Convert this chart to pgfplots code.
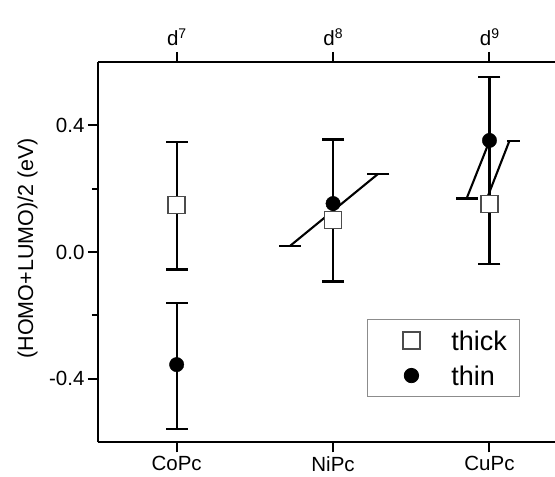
\documentclass[border=0pt]{standalone}
\usepackage{fontspec}
\setmainfont{Liberation Sans}
\usepackage{pgfplots}
\pgfplotsset{compat=1.18}

\newcommand{\tickfont}{\fontsize{20.5}{24}\selectfont}
\newcommand{\dsup}[1]{d\raisebox{6.7pt}{\fontsize{14}{14}\selectfont #1}}

\pgfplotsset{
  baseaxis/.style={
    scale only axis, width=457pt, height=380.5pt,
    at={(98pt,34.7pt)}, anchor=south west,
    xmin=0.497, xmax=3.419, ymin=-0.6, ymax=0.6,
    tick align=outside,
    major tick length=10pt, minor tick length=6pt,
    every tick/.style={black, line width=2pt},
    axis line style={black, line width=2pt},
    xticklabel style={font=\tickfont},
    yticklabel style={font=\tickfont},
  },
  errbar/.style={forget plot, black, line width=2.1pt, mark=-, mark size=11pt,
    mark options={solid, line width=2.1pt}},
}

\begin{document}
\begin{tikzpicture}
% top axis with the d-electron counts
\begin{axis}[baseaxis,
  axis x line*=top, axis y line=none,
  xtick={1,2,3},
  xticklabels={\dsup{7},\dsup{8},\dsup{9}},
  xticklabel style={yshift=3pt},
  ytick=\empty,
]
\end{axis}

\begin{axis}[baseaxis,
  axis x line*=bottom, axis y line*=left,
  xtick={1,2,3}, xticklabels={CoPc,NiPc,CuPc},
  xticklabel style={yshift=-0.5pt},
  ytick={-0.4,0,0.4}, yticklabels={-0.4,0.0,0.4},
  minor ytick={-0.2,0.2},
  ylabel={(HOMO+LUMO)/2 (eV)},
  ylabel style={at={(axis description cs:-0.154,0.51)}, anchor=center,
    font=\fontsize{21.5}{25}\selectfont},
  legend cell align=left,
  legend image code/.code={\path (-32pt,0pt) (0pt,0pt); \draw[#1] plot coordinates {(0pt,0pt)};},
  legend style={at={(axis description cs:0.922,0.323)}, anchor=north east,
    draw=black!45, line width=0.8pt, font=\fontsize{27}{30}\selectfont,
    inner xsep=12pt, inner ysep=11pt, row sep=15.5pt, column sep=31.5pt,
    nodes={inner sep=0pt, text height=19.5pt, text depth=0pt}},
]
% vertical error bars
\addplot[errbar] coordinates {(1,-0.055) (1,0.347)};
\addplot[errbar] coordinates {(1,-0.559) (1,-0.160)};
\addplot[errbar] coordinates {(2,-0.093) (2,0.355)};
\addplot[errbar] coordinates {(3,-0.037) (3,0.553)};
% slanted bars
\addplot[errbar] coordinates {(1.724,0.019) (2.289,0.247)};
\addplot[errbar, mark indices={1}] coordinates {(2.854,0.169) (3.0,0.350)};
\addplot[forget plot, black, line width=2.1pt] coordinates {(2.969,0.150) (3.127,0.350)};
\addplot[forget plot, black, line width=2.1pt] coordinates {(3.111,0.350) (3.196,0.350)};

\addplot[only marks, mark=square*, mark size=8.5pt,
  mark options={fill=white, draw=black!70, line width=1.4pt}]
  coordinates {(1,0.148) (2,0.101) (3,0.151)};
\addlegendentry{thick}
\addplot[only marks, mark=*, mark size=7.2pt, black]
  coordinates {(1,-0.355) (2,0.153) (3,0.352)};
\addlegendentry{thin}
\end{axis}
\pgfresetboundingbox
\useasboundingbox (0,0) rectangle (555pt,477pt);
\end{tikzpicture}
\end{document}
